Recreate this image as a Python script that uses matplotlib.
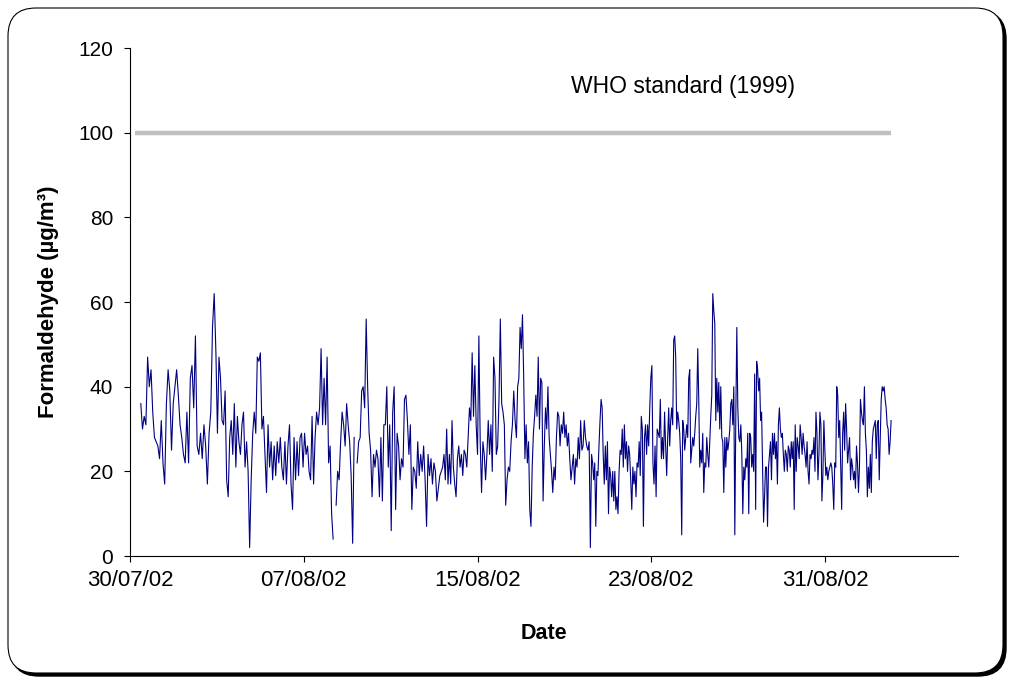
import numpy as np
import pandas as pd
import matplotlib
matplotlib.use('Agg')
import matplotlib.pyplot as plt
import matplotlib.dates as mdates
from matplotlib.patches import FancyBboxPatch
from matplotlib.transforms import IdentityTransform

plt.rcParams['font.family'] = ['Liberation Sans', 'DejaVu Sans']

# Formaldehyde readings (ug/m3), grouped by logging period
period_starts = pd.to_datetime([
    '2002-07-30 12:00', '2002-08-02 23:00', '2002-08-06 10:00', '2002-08-09 21:00',
    '2002-08-13 08:00', '2002-08-16 19:00', '2002-08-20 06:00', '2002-08-23 17:00',
    '2002-08-27 04:00', '2002-08-30 15:00'])
period_end = pd.Timestamp('2002-09-03 02:00')

p1 = [36, 30, 33, 31, 47, 40, 44, 34, 28, 27, 26, 23, 32, 22, 17, 36, 44, 39, 25, 36,
      40, 44, 38, 31, 28, 24, 22, 34, 22, 42, 45, 35, 52, 26, 24, 29, 23, 31, 26, 17,
      29, 34, 54, 62]
p2 = [48, 29, 47, 42, 32, 31, 39, 18, 14, 28, 32, 24, 36, 21, 33, 27, 24, 31, 34, 21,
      27, 20, 2, 18, 29, 34, 29, 47, 46, 48, 30, 33, 24, 15, 31, 21, 27, 18, 26, 19,
      27, 22, 28, 21, 18, 27, 17, 26, 31]
p3 = [17, 11, 28, 18, 27, 19, 28, 29, 21, 29, 24, 26, 20, 18, 33, 17, 28, 34, 31, 35,
      49, 31, 42, 31, 47, 22, 26, 10, 4, np.nan, 12, 20, 18, 27, 34, 31, 26, 36, 31, 27,
      19, 3, 28, np.nan, 22, 27, 28, 39, 40, 35]
p4 = [56, 40, 29, 25, 14, 24, 21, 25, 23, 14, 28, 13, 31, 31, 40, 21, 31, 6, 34, 40,
      11, 29, 26, 18, 23, 21, 37, 38, 32, 24, 31, 11, 21, 20, 16, 27, 19, 24, 20, 26,
      18, 7, 24, 19, 23, 17, 22, 20, 13, 16, 19]
p5 = [20, 21, 24, 18, 30, 17, 24, 17, 32, 21, 17, 14, 23, 26, 21, 24, 19, 25, 24, 21,
      28, 35, 32, 48, 33, 45, 31, 24, 52, 27, 15, 27, 24, 18, 24, 32, 24, 31, 20, 47,
      42, 24, 26, 37, 56, 36, 34, 31, 12, 18, 21, 20, 27, 31, 39, 32]
p6 = [28, 40, 42, 54, 49, 57, 42, 23, 31, 22, 27, 11, 7, 21, 29, 33, 38, 33, 47, 30,
      42, 41, 13, 26, 35, 30, 40, 28, 24, 20, 15, 21, 18, 28, 34, 33, 26, 31, 29, 34,
      28, 31, 26, 29, 23, 18, 21, 24, 17, 23, 21, 28, 23, 32, 25, 26, 32, 28, 26, 25,
      27, 2]
p7 = [24, 22, 18, 22, 7, 20, 19, 26, 32, 37, 35, 24, 17, 26, 18, 27, 10, 21, 19, 14,
      20, 13, 20, 11, 14, 10, 20, 25, 24, 30, 21, 31, 23, 27, 20, 26, 24, 18, 11, 21,
      17, 20, 14, 22, 21, 27, 19, 33, 30, 7, 28, 31, 24, 31, 26, 35, 42, 45, 22, 17,
      26, 14, 30, 29, 28, 37, 23, 28, 23, 34, 26]
p8 = [19, 28, 35, 26, 32, 35, 31, 51, 52, 47, 30, 34, 32, 29, 23, 5, 32, 30, 25, 28,
      31, 28, 42, 44, 22, 25, 28, 26, 29, 33, 36, 49, 37, 21, 25, 22, 29, 15, 22, 21,
      28, 24, 21, 27, 33, 38, 62, 58, 55, 32, 42, 34, 41, 30, 40, 28, 27, 15, 28, 21,
      28, 25, 27, 30, 36, 37, 31, 40, 5, 33, 54, 35, 28, 27, 31]
p9 = [24, 10, 21, 18, 23, 21, 29, 10, 29, 28, 21, 24, 20, 43, 11, 46, 44, 39, 42, 32,
      34, 21, 8, 14, 21, 21, 7, 21, 24, 27, 18, 29, 24, 29, 23, 27, 17, 31, 35, 30,
      28, 29, 24, 20, 25, 24, 20, 26, 25, 21, 27, 23, 27, 11, 31, 20, 28, 26, 23, 31,
      28, 24, 29, 26, 24, 21, 27, 20, 17, 24, 23, 25, 24, 28, 20, 34]
p10 = [29, 18, 24, 34, 31, 13, 19, 32, 25, 19, 21, 18, 20, 21, 22, 21, 17, 11, 22, 21,
       40, 38, 28, 32, 21, 11, 29, 34, 25, 36, 30, 22, 25, 28, 18, 23, 21, 18, 20, 16,
       26, 22, 15, 21, 37, 34, 32, 31, 40, 29, 25, 14, 21, 16, 24, 15, 27, 30, 31, 32,
       23, 31, 32, 18, 28, 37, 40, 39, 40, 37, 35, 31, 30, 24, 27, 32]

who_limit = 100
tick_dates = pd.to_datetime(['2002-07-30', '2002-08-07', '2002-08-15',
                             '2002-08-23', '2002-08-31'])
x_min = pd.Timestamp('2002-07-30')
x_max = pd.Timestamp('2002-09-06 03:00')

# spread each period's readings evenly over its time span
blocks = [p1, p2, p3, p4, p5, p6, p7, p8, p9, p10]
edges = list(period_starts) + [period_end]
times, values = [], []
for i, blk in enumerate(blocks):
    t = pd.date_range(edges[i], edges[i + 1], periods=len(blk) + 1)[:-1]
    times.extend(t)
    values.extend(blk)
times = pd.DatetimeIndex(times)
values = np.array(values, dtype=float)

fig = plt.figure(figsize=(10.15, 6.77), dpi=100)

# rounded frame with a small drop shadow
shadow = FancyBboxPatch((11, 1), 995, 665, boxstyle='round,pad=0,rounding_size=28',
                        transform=IdentityTransform(), facecolor='black',
                        edgecolor='black', zorder=0)
frame = FancyBboxPatch((8, 4), 995, 665, boxstyle='round,pad=0,rounding_size=28',
                       transform=IdentityTransform(), facecolor='white',
                       edgecolor='black', linewidth=0.8, zorder=1)
fig.patches.extend([shadow, frame])

ax = fig.add_axes([0.128, 0.1787, 0.816, 0.7503])
ax.set_facecolor('none')
ax.set_zorder(2)

ax.plot([times[0] - pd.Timedelta(hours=6), times[-1]], [who_limit, who_limit],
        color='#c0c0c0', lw=3.2, solid_capstyle='butt')
ax.plot(times, values, color='#000080', lw=0.8)
ax.text(pd.Timestamp('2002-08-24 11:00'), 111, 'WHO standard (1999)', fontsize=16.5,
        va='center', ha='center')

ax.set_xlim(x_min, x_max)
ax.set_ylim(0, 120)
ax.set_yticks(np.arange(0, 121, 20))
ax.set_xticks(tick_dates)
ax.xaxis.set_major_formatter(mdates.DateFormatter('%d/%m/%y'))

for side in ['top', 'right']:
    ax.spines[side].set_visible(False)
for side in ['left', 'bottom']:
    ax.spines[side].set_color('black')
    ax.spines[side].set_linewidth(0.8)

ax.tick_params(axis='y', direction='out', length=4, width=0.8, labelsize=15, pad=8)
ax.tick_params(axis='x', direction='out', length=4, width=0.8, labelsize=16, pad=6)
ax.set_ylabel('Formaldehyde (µg/m³)', fontsize=16, fontweight='bold', labelpad=14)
ax.set_xlabel('Date', fontsize=15.5, fontweight='bold', labelpad=23)

fig.savefig('out.png', dpi=100)
